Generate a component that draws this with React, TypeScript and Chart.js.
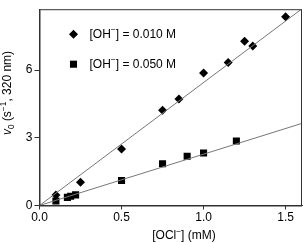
import React, { useEffect, useRef } from "react";
import { Chart, registerables } from "chart.js";

Chart.register(...registerables);

const lowOhLabel = "[OH⁻] = 0.010 M";
const highOhLabel = "[OH⁻] = 0.050 M";
const lowOhX = [0.1, 0.25, 0.5, 0.75, 0.85, 1.0, 1.15, 1.25, 1.3, 1.5];
const lowOhY = [0.46, 1.03, 2.5, 4.22, 4.72, 5.87, 6.34, 7.28, 7.07, 8.36];
const highOhX = [0.1, 0.17, 0.19, 0.22, 0.5, 0.75, 0.9, 1.0, 1.2];
const highOhY = [0.2, 0.36, 0.41, 0.47, 1.11, 1.85, 2.18, 2.33, 2.86];
const fitX = [0, 1.6];
const fitLowY = [0, 8.72];
const fitHighY = [0, 3.64];
const xTicks = [0, 0.5, 1.0, 1.5];
const yTicks = [0, 3, 6];

const FONT = "'Liberation Sans', Arial, sans-serif";

type Seg = { t: string; it?: boolean; sup?: boolean; sub?: boolean };

function segWidth(ctx: CanvasRenderingContext2D, segs: Seg[], size: number) {
  let w = 0;
  for (const s of segs) {
    const fs = s.sup || s.sub ? size * 0.7 : size;
    ctx.font = `${s.it ? "italic " : ""}${fs}px ${FONT}`;
    w += ctx.measureText(s.t).width;
  }
  return w;
}

function drawRich(ctx: CanvasRenderingContext2D, segs: Seg[], x: number, y: number, size: number) {
  let cx = x;
  ctx.textBaseline = "middle";
  ctx.textAlign = "left";
  for (const s of segs) {
    const fs = s.sup || s.sub ? size * 0.7 : size;
    ctx.font = `${s.it ? "italic " : ""}${fs}px ${FONT}`;
    const dy = s.sup ? -size * 0.35 : s.sub ? size * 0.3 : 0;
    ctx.fillText(s.t, cx, y + dy);
    cx += ctx.measureText(s.t).width;
  }
}

const ohSegs = (label: string): Seg[] => {
  const rest = label.split("⁻")[1];
  return [{ t: "[OH" }, { t: "−", sup: true }, { t: rest }];
};

const decor = {
  id: "decor",
  afterDraw(chart: any) {
    const { ctx, chartArea: a } = chart;
    ctx.save();
    ctx.strokeStyle = "#333";
    ctx.lineWidth = 1;
    ctx.strokeRect(a.left + 0.5, a.top + 0.5, a.right - a.left - 1, a.bottom - a.top);
    ctx.fillStyle = "#000";
    // legend
    const items = [
      { style: "rectRot", r: 4.5, label: lowOhLabel, y: a.top + 25 },
      { style: "rect", r: 5, label: highOhLabel, y: a.top + 55 },
    ];
    for (const it of items) {
      ctx.fillStyle = "#000";
      ctx.beginPath();
      if (it.style === "rectRot") {
        const cx = a.left + 34, cy = it.y;
        ctx.moveTo(cx, cy - it.r);
        ctx.lineTo(cx + it.r, cy);
        ctx.lineTo(cx, cy + it.r);
        ctx.lineTo(cx - it.r, cy);
        ctx.closePath();
        ctx.fill();
      } else {
        const s = it.r * Math.SQRT1_2;
        ctx.fillRect(a.left + 34 - s, it.y - s, 2 * s, 2 * s);
      }
      drawRich(ctx, ohSegs(it.label), a.left + 50, it.y, 12);
    }
    // x title
    const xs: Seg[] = [{ t: "[OCl" }, { t: "−", sup: true }, { t: "] (mM)" }];
    const xw = segWidth(ctx, xs, 12);
    drawRich(ctx, xs, 184 - xw / 2, 236, 12);
    // y title
    const ys: Seg[] = [
      { t: "v", it: true },
      { t: "0", sub: true },
      { t: " (s" },
      { t: "−1", sup: true },
      { t: ", 320 nm)" },
    ];
    const yw = segWidth(ctx, ys, 12);
    ctx.translate(8, 93);
    ctx.rotate(-Math.PI / 2);
    drawRich(ctx, ys, -yw / 2, 0, 12);
    ctx.restore();
  },
};

export default function App() {
  const ref = useRef<HTMLCanvasElement>(null);
  useEffect(() => {
    document.body.style.margin = "0";
    const toPts = (xs: number[], ys: number[]) => xs.map((x, i) => ({ x, y: ys[i] }));
    const chart = new Chart(ref.current!, {
      type: "scatter",
      data: {
        datasets: [
          {
            label: "fit1",
            type: "line",
            data: toPts(fitX, fitLowY),
            borderColor: "#777",
            borderWidth: 1,
            pointRadius: 0,
            fill: false,
          },
          {
            label: "fit2",
            type: "line",
            data: toPts(fitX, fitHighY),
            borderColor: "#777",
            borderWidth: 1,
            pointRadius: 0,
            fill: false,
          },
          {
            label: lowOhLabel,
            data: toPts(lowOhX, lowOhY),
            pointStyle: "rectRot",
            pointRadius: 4.5,
            backgroundColor: "#000",
            borderColor: "#000",
            borderWidth: 0,
          },
          {
            label: highOhLabel,
            data: toPts(highOhX, highOhY),
            pointStyle: "rect",
            pointRadius: 5,
            backgroundColor: "#000",
            borderColor: "#000",
            borderWidth: 0,
          },
        ],
      } as any,
      options: {
        animation: false,
        responsive: false,
        maintainAspectRatio: false,
        layout: { padding: { top: 3, right: 2, left: 0, bottom: 0 } },
        plugins: { legend: { display: false }, tooltip: { enabled: false } },
        scales: {
          x: {
            type: "linear",
            min: 0,
            max: 1.6,
            afterFit: (s: any) => { s.height = 37.5; },
            afterBuildTicks: (s: any) => { s.ticks = xTicks.map((v) => ({ value: v })); },
            ticks: {
              font: { family: FONT, size: 12 },
              color: "#000",
              padding: 1,
              maxRotation: 0,
              callback: (v: any) => Number(v).toFixed(1),
            },
            grid: { drawOnChartArea: false, drawTicks: true, tickLength: 4, color: "#333" },
            border: { display: true, color: "#333" },
          },
          y: {
            type: "linear",
            min: 0,
            max: 8.7,
            afterFit: (s: any) => { s.width = 39.5; },
            afterBuildTicks: (s: any) => { s.ticks = yTicks.map((v) => ({ value: v })); },
            ticks: {
              font: { family: FONT, size: 12 },
              color: "#000",
              padding: 2,
              callback: (v: any) => String(v),
            },
            grid: { drawOnChartArea: false, drawTicks: true, tickLength: 5, color: "#333" },
            border: { display: true, color: "#333" },
          },
        },
      } as any,
      plugins: [decor],
    });
    return () => chart.destroy();
  }, []);
  return (
    <div style={{ width: 307, height: 243 }}>
      <canvas ref={ref} width={307} height={243} style={{ display: "block" }} />
    </div>
  );
}
